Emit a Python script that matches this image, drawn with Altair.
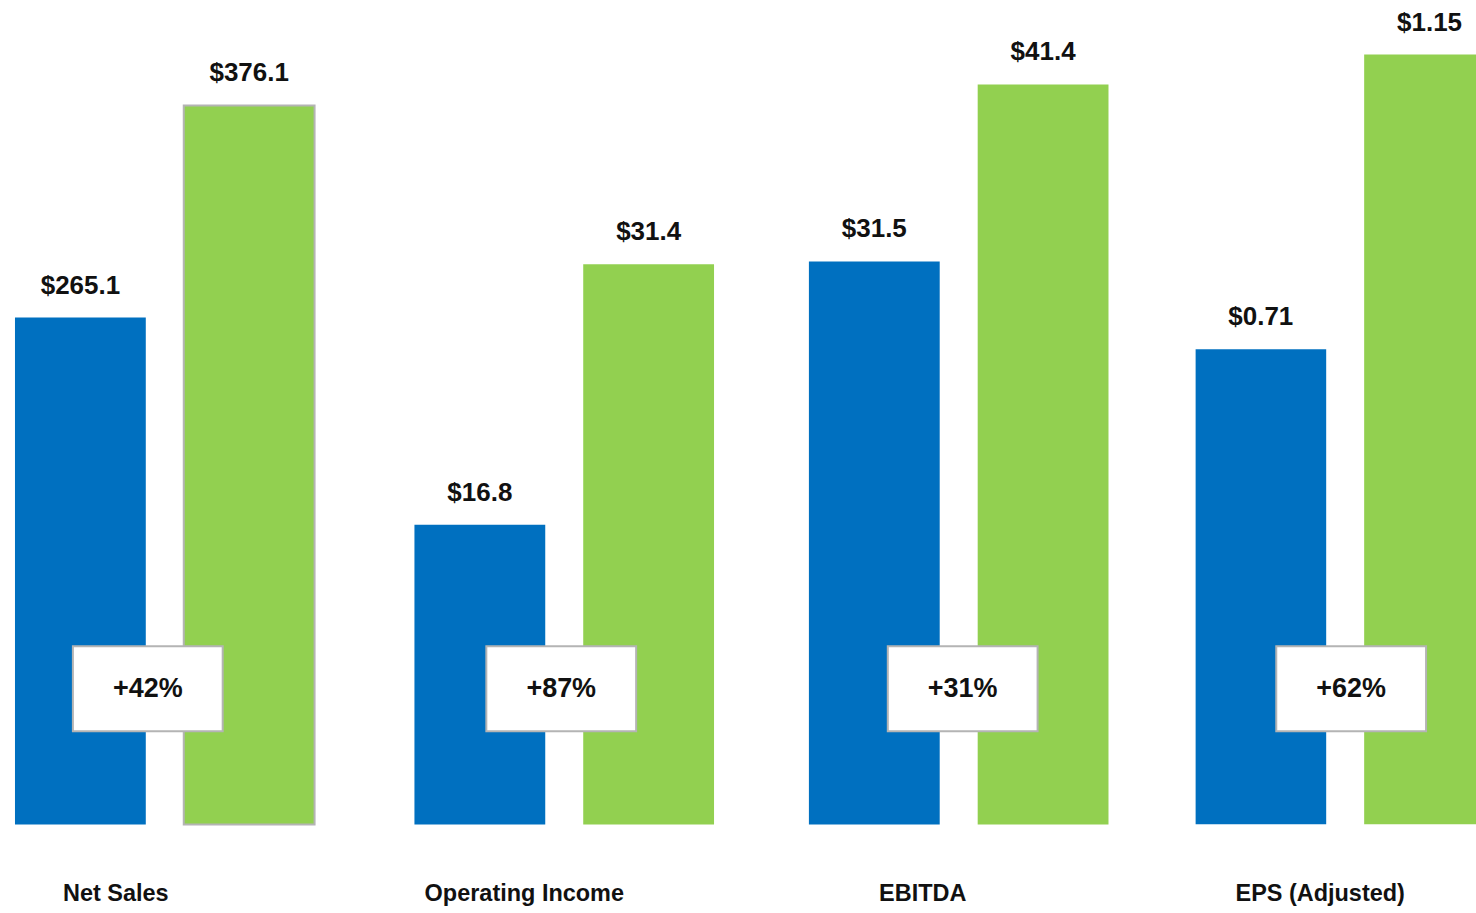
import altair as alt
import pandas as pd

# ---- data ----
metrics = ["Net Sales", "Operating Income", "EBITDA", "EPS (Adjusted)"]
periods = ["Prior", "Current"]
prior_values = [265.1, 16.8, 31.5, 0.71]
current_values = [376.1, 31.4, 41.4, 1.15]
prior_labels = ["$265.1", "$16.8", "$31.5", "$0.71"]
current_labels = ["$376.1", "$31.4", "$41.4", "$1.15"]
growth_labels = ["+42%", "+87%", "+31%", "+62%"]

# ---- per-panel scale tops (each panel has its own y scale) ----
y_max = [430.9, 46.18, 46.09, 1.2306]

# ---- styling / layout ----
BLUE = "#0070C0"
GREEN = "#92D050"
BORDER = "#B4B4B4"
FONT = "Liberation Sans"
H = 825
W = 300
box_x = [133, 147, 154, 156]
box_y = 689
cat_x = [101, 110, 114, 125]
cat_y = 895
BOX_SHAPE = "M-1,-0.567L1,-0.567L1,0.567L-1,0.567Z"


def panel(i, width=W, clip=False):
    df = pd.DataFrame({
        "period": periods,
        "value": [prior_values[i], current_values[i]],
        "label": [prior_labels[i], current_labels[i]],
    })
    x = alt.X("period:N", sort=periods, axis=None,
              scale=alt.Scale(domain=periods, paddingInner=0.225, paddingOuter=0, range=[0, W]))
    y = alt.Y("value:Q", axis=None,
              scale=alt.Scale(domain=[0, y_max[i]], nice=False, zero=True))
    color = alt.Color("period:N", legend=None,
                      scale=alt.Scale(domain=periods, range=[BLUE, GREEN]))
    enc = dict(x=x, y=y, color=color)
    if i == 0:
        enc["stroke"] = alt.condition("datum.period == 'Current'", alt.value(BORDER), alt.value("transparent"))
        bars = alt.Chart(df).mark_bar(clip=clip, strokeWidth=2).encode(**enc)
    else:
        bars = alt.Chart(df).mark_bar(clip=clip).encode(**enc)

    labels = alt.Chart(df).mark_text(
        baseline="bottom", dy=-19, fontSize=26, fontWeight="bold", font=FONT, color="#111111"
    ).encode(x=x, y=y, text="label:N")

    gdf = pd.DataFrame({"g": [growth_labels[i]], "m": [metrics[i]]})
    box = alt.Chart(gdf).mark_point(
        shape=BOX_SHAPE, size=22500, filled=True, fill="white", fillOpacity=1,
        stroke=BORDER, strokeWidth=2, opacity=1
    ).encode(x=alt.value(box_x[i]), y=alt.value(box_y))
    growth = alt.Chart(gdf).mark_text(
        fontSize=27, fontWeight="bold", font=FONT, color="#111111", baseline="middle"
    ).encode(x=alt.value(box_x[i]), y=alt.value(box_y), text="g:N")
    cat = alt.Chart(gdf).mark_text(
        fontSize=23.5, fontWeight="bold", font=FONT, color="#111111", baseline="middle"
    ).encode(x=alt.value(cat_x[i]), y=alt.value(cat_y), text="m:N")

    return alt.layer(bars, labels, box, growth, cat).properties(width=width, height=H)


left = alt.hconcat(panel(0), panel(1), spacing=99)
right = alt.hconcat(panel(2), panel(3, width=281, clip=True), spacing=87)
chart = alt.hconcat(left, right, spacing=95).properties(
    padding={"left": 14, "top": 0, "right": 0, "bottom": 0},
    background="white",
).configure_view(stroke=None)

chart.save("out.html", embed_options={"renderer": "svg", "actions": False})
